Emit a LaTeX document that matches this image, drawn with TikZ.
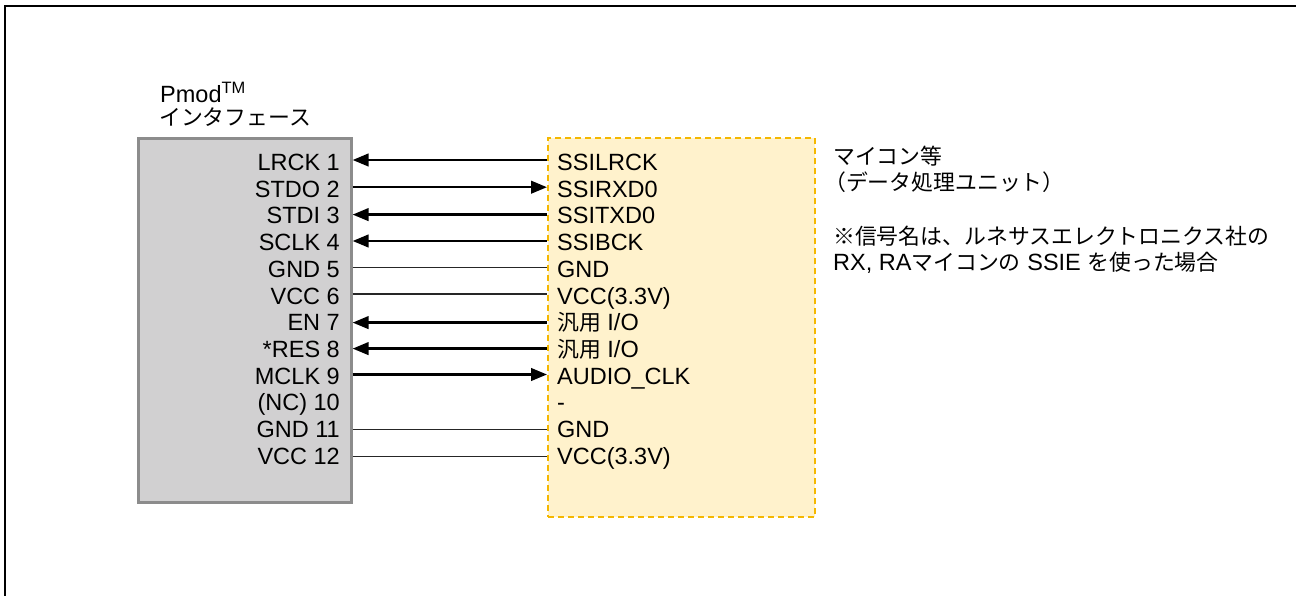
\documentclass[tikz,border=0pt]{standalone}
\usepackage{fontspec}
\setmainfont{Liberation Sans}
\newfontfamily\jp{Noto Sans CJK JP}[Scale=0.93]
\usetikzlibrary{arrows.meta}
\definecolor{boxgray}{HTML}{D1D0D1}
\definecolor{boxedge}{HTML}{8C8C8C}
\definecolor{yfill}{HTML}{FFF2CC}
\definecolor{yedge}{HTML}{F5B800}
\begin{document}
\begin{tikzpicture}[x=1pt,y=-1pt,font=\fontsize{23.5}{27}\selectfont,
  lab/.style={inner sep=0pt,anchor=base east},
  rlab/.style={inner sep=0pt,anchor=base west},
  note/.style={inner sep=0pt,anchor=base west},
  sig/.style={line width=2.6pt,-{Triangle[length=16pt,width=12.5pt]}},
  pwr/.style={line width=1.1pt,draw=black!85},
  pmodbox/.style={draw=boxedge,fill=boxgray,line width=2.6pt,inner sep=0pt,anchor=north west},
  mcubox/.style={draw=yedge,fill=yfill,line width=2pt,dash pattern=on 6pt off 4pt,inner sep=0pt,anchor=north west}]
\useasboundingbox (0,0) rectangle (1296,596);
\draw[line width=1.6pt] (5,596) -- (5,6) -- (1296,6);
\node[pmodbox,minimum width=213pt,minimum height=364pt] (pmod) at (137,137) {};
\node[mcubox,minimum width=267pt,minimum height=379pt] (mcu) at (547,137) {};
% titles
\node[note] (ptitle) at (160,103) {Pmod\textsuperscript{TM}};
\node[note] (ptitle2) at (159,126) {\jp インタフェース};
\node[note] (n1) at (833,165) {\jp マイコン等};
\node[note] (n2) at (824,191) {\jp （データ処理ユニット）};
\node[note] (n3) at (833,245) {\jp ※信号名は、ルネサスエレクトロニクス社の};
\node[note] (n4) at (833,270.5) {RX, RA{\jp マイコンの} SSIE {\jp を使った場合}};
% left labels
\node[lab] (a1) at (340,170.7) {LRCK 1};
\node[lab] (a2) at (340,197.4) {STDO 2};
\node[lab] (a3) at (340,224.0) {STDI 3};
\node[lab] (a4) at (340,250.7) {SCLK 4};
\node[lab] (a5) at (340,277.4) {GND 5};
\node[lab] (a6) at (340,304.0) {VCC 6};
\node[lab] (a7) at (340,330.7) {EN 7};
\node[lab] (a8) at (340,357.4) {*RES 8};
\node[lab] (a9) at (340,384.1) {MCLK 9};
\node[lab] (a10) at (340,410.7) {(NC) 10};
\node[lab] (a11) at (340,437.4) {GND 11};
\node[lab] (a12) at (340,464.0) {VCC 12};
% right labels
\node[rlab] (b1) at (557,170.7) {SSILRCK};
\node[rlab] (b2) at (557,197.4) {SSIRXD0};
\node[rlab] (b3) at (557,224.0) {SSITXD0};
\node[rlab] (b4) at (557,250.7) {SSIBCK};
\node[rlab] (b5) at (557,277.4) {GND};
\node[rlab] (b6) at (557,304.0) {VCC(3.3V)};
\node[rlab] (b7) at (557,330.7) {{\jp 汎用} I/O};
\node[rlab] (b8) at (557,357.4) {{\jp 汎用} I/O};
\node[rlab] (b9) at (557,384.1) {AUDIO\_CLK};
\node[rlab] (b10) at (557,410.7) {-};
\node[rlab] (b11) at (557,437.4) {GND};
\node[rlab] (b12) at (557,464.0) {VCC(3.3V)};
% connection points
\foreach \n/\y in {1/160,2/187.2,3/214.6,4/241,5/267.6,6/294,7/322.6,8/348.6,9/374.5,11/429.5,12/456.8}{
  \coordinate (L\n) at (pmod.east |- 0,\y);
  \coordinate (R\n) at (mcu.west |- 0,\y);
}
\draw[sig] (R1) -- (L1);
\draw[sig] (L2) -- (R2);
\draw[sig] (R3) -- (L3);
\draw[sig] (R4) -- (L4);
\draw[pwr] (L5) -- (R5);
\draw[pwr] (L6) -- (R6);
\draw[sig] (R7) -- (L7);
\draw[sig] (R8) -- (L8);
\draw[sig] (L9) -- (R9);
\draw[pwr] (L11) -- (R11);
\draw[pwr] (L12) -- (R12);
\end{tikzpicture}
\end{document}
